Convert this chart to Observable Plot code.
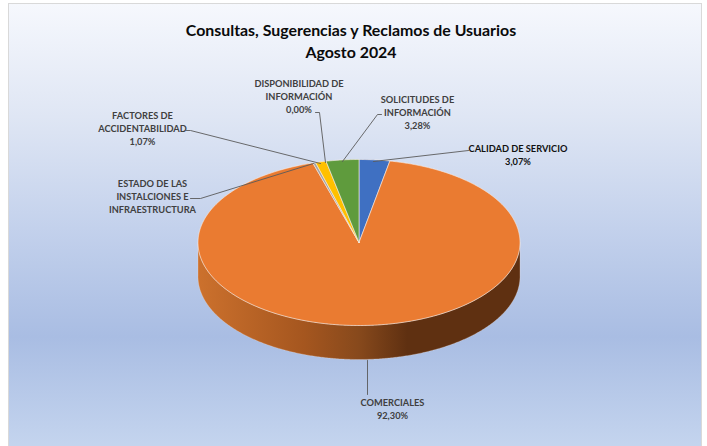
<!DOCTYPE html>
<html lang="es">
<head>
<meta charset="utf-8">
<script src="https://cdn.jsdelivr.net/npm/d3@7"></script>
<script src="https://cdn.jsdelivr.net/npm/@observablehq/plot@0.6"></script>
<style>
html,body{margin:0;padding:0;background:#fff;overflow:hidden;width:707px;height:446px}
#panel{position:absolute;left:8px;top:3px;width:692px;height:450px;border:1px solid #d9d9d9;
background:linear-gradient(180deg,#f6f8fd 0%,#dfe6f4 25%,#c3d1ec 50%,#a9bde3 74%,#c6d6ef 100%)}
#chart{position:absolute;left:0;top:0}
</style>
</head>
<body>
<div id="panel"></div>
<div id="chart"></div>
<script>
const categories = ["CALIDAD DE SERVICIO","COMERCIALES","ESTADO DE LAS INSTALCIONES E INFRAESTRUCTURA","FACTORES DE ACCIDENTABILIDAD","DISPONIBILIDAD DE INFORMACIÓN","SOLICITUDES DE INFORMACIÓN"];
const values = [3.07, 92.30, 0.28, 1.07, 0.00, 3.28];
const sliceColors = ["#3f70c2","#ea7b31","#a5a5a5","#ffc000","#5b9bd5","#5f9b3d"];
const titleLines = ["Consultas, Sugerencias y Reclamos de Usuarios","Agosto 2024"];

// label texts and where they sit on the page
const labelTexts = [
  "CALIDAD DE SERVICIO\n3,07%",
  "COMERCIALES\n92,30%",
  "ESTADO DE LAS\nINSTALCIONES E\nINFRAESTRUCTURA",
  "FACTORES DE\nACCIDENTABILIDAD\n1,07%",
  "DISPONIBILIDAD DE\nINFORMACIÓN\n0,00%",
  "SOLICITUDES DE\nINFORMACIÓN\n3,28%"
];
const labelX = [517.5, 392, 152, 142, 298.5, 417];
const labelY = [154, 407.5, 195.5, 127.5, 95, 111.5];
const labelInk = ["#111111","#404040","#404040","#404040","#404040","#404040"];
const leaders = [
  [[373,161],[468,150]],
  [[367,360],[367,394]],
  [[313,163],[200,198],[190,198]],
  [[320,163],[190,130],[186,130]],
  [[325,162],[319,112],[315,112]],
  [[342,161],[377,114],[381,114]]
];

// pie geometry on the page
const cx = 358.5, cy = 242, rx = 161, ry = 83, depth = 34;
const rad = d => d * Math.PI / 180;
const onRim = (deg, drop = 0) => [cx + rx * Math.sin(rad(deg)), cy - ry * Math.cos(rad(deg)) + drop];

const arcs = d3.pie().sort(null).value(d => d)(values);
const slicePoints = [];
arcs.forEach((a, i) => {
  if (values[i] <= 0) return;
  const a0 = a.startAngle * 180 / Math.PI, a1 = a.endAngle * 180 / Math.PI;
  const n = Math.max(2, Math.ceil((a1 - a0) * 2));
  const pts = [[cx, cy]];
  for (let k = 0; k <= n; k++) pts.push(onRim(a0 + (a1 - a0) * k / n));
  pts.push([cx, cy]);
  pts.forEach(([x, y]) => slicePoints.push({name: categories[i], x, y}));
});

// front wall of the disc
const wall = [];
for (let d = 90; d <= 270; d += 0.5) wall.push(onRim(d));
for (let d = 270; d >= 90; d -= 0.5) wall.push(onRim(d, depth));
wall.push(wall[0]);

const gradient = () => {
  const defs = document.createElementNS("http://www.w3.org/2000/svg", "defs");
  defs.innerHTML = `<linearGradient id="wallShade" x1="0" x2="1" y1="0" y2="0">
    <stop offset="0" stop-color="#cc712d"/>
    <stop offset="0.33" stop-color="#a5561f"/>
    <stop offset="0.5" stop-color="#87491c"/>
    <stop offset="0.65" stop-color="#5f3011"/>
    <stop offset="1" stop-color="#5f3011"/>
  </linearGradient>`;
  return defs;
};

const leaderPoints = leaders.flatMap((line, i) => line.map(([x, y]) => ({i, x, y})));
const labels = labelTexts.map((text, i) => ({text, x: labelX[i], y: labelY[i], ink: labelInk[i]}));
const font = "Lato, Carlito, 'Open Sans', sans-serif";

const chart = Plot.plot({
  width: 707, height: 446, margin: 0,
  x: {domain: [0, 707], range: [0, 707], axis: null},
  y: {domain: [0, 446], range: [0, 446], axis: null},
  color: {domain: categories, range: sliceColors},
  style: {background: "transparent", fontFamily: font},
  marks: [
    gradient,
    Plot.line(wall, {x: d => d[0], y: d => d[1], fill: "url(#wallShade)", stroke: "#f3e3d6", strokeWidth: 0.4, strokeOpacity: 0.7}),
    Plot.line(slicePoints, {x: "x", y: "y", z: "name", fill: "name", stroke: "#fbeee4", strokeWidth: 0.7, strokeOpacity: 0.85}),
    Plot.line(leaderPoints, {x: "x", y: "y", z: "i", stroke: "#5a5a5a", strokeWidth: 0.9}),
    Plot.text(labels, {x: "x", y: "y", text: "text", fill: "ink", fontSize: 9.25, fontWeight: 700, lineHeight: 1.43, lineAnchor: "middle"}),
    Plot.text(titleLines, {x: () => 350.5, y: (d, i) => 30 + i * 22, text: d => d, fill: "#0a0a0a", fontSize: 15.9, fontWeight: 700})
  ]
});
document.getElementById("chart").append(chart);
</script>
</body>
</html>
